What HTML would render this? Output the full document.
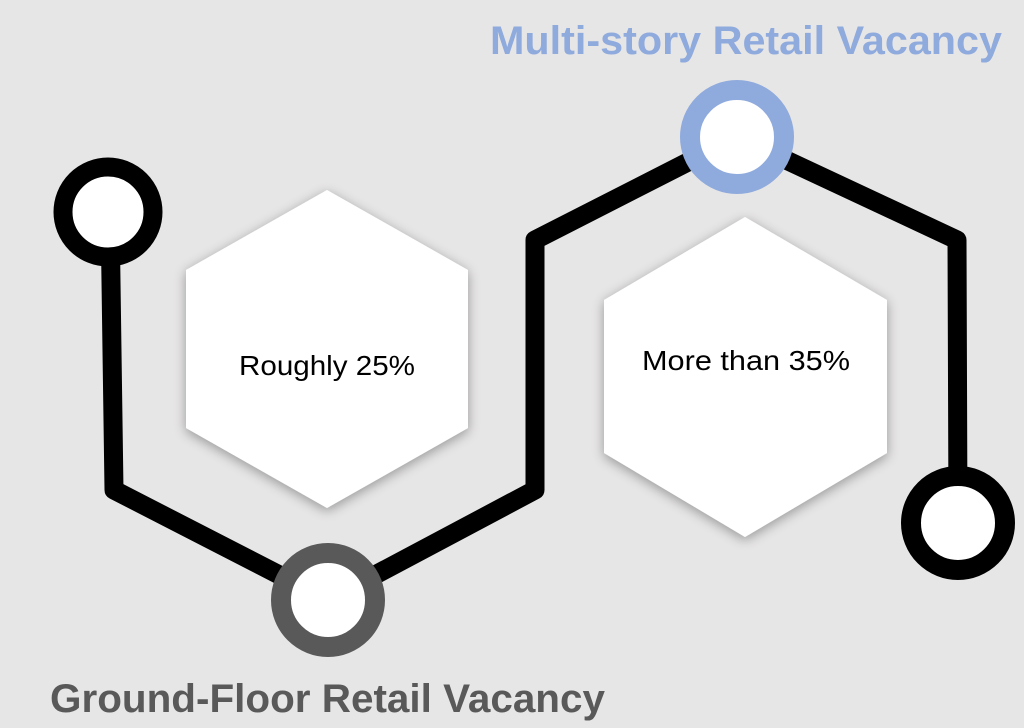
<!DOCTYPE html>
<html><head><meta charset="utf-8"><style>
html,body{margin:0;padding:0;background:#e7e6e6;}
svg{display:block}
</style></head><body>
<svg width="1024" height="728" viewBox="0 0 1024 728" xmlns="http://www.w3.org/2000/svg">
<defs>
<filter id="sh" x="-20%" y="-20%" width="140%" height="140%">
<feGaussianBlur in="SourceAlpha" stdDeviation="6"/>
<feOffset dx="0" dy="3"/>
<feComponentTransfer><feFuncA type="linear" slope="0.35"/></feComponentTransfer>
<feMerge><feMergeNode/><feMergeNode in="SourceGraphic"/></feMerge>
</filter>
</defs>
<rect width="1024" height="728" fill="#e7e6e6"/>
<polygon points="327,190 468,270 468,428 327,508 186,428 186,270" fill="#fff" filter="url(#sh)"/>
<polygon points="745,217 887,300 887,453 745,537 604,453 604,300" fill="#fff" filter="url(#sh)"/>
<polyline points="110,212 114,490 328,600 535,490 535,240 737,137 957,240 958,522" fill="none" stroke="#000" stroke-width="19" stroke-linejoin="round"/>
<circle cx="108" cy="212" r="45" fill="#fff" stroke="#000" stroke-width="19"/>
<circle cx="328" cy="600" r="47" fill="#fff" stroke="#595959" stroke-width="20"/>
<circle cx="737" cy="137" r="47" fill="#fff" stroke="#8faadc" stroke-width="20"/>
<circle cx="958" cy="523" r="47" fill="#fff" stroke="#000" stroke-width="20"/>
<text x="327" y="375" font-family="Liberation Sans, sans-serif" font-size="28" text-anchor="middle" fill="#000" textLength="176" lengthAdjust="spacingAndGlyphs">Roughly 25%</text>
<text x="746" y="370" font-family="Liberation Sans, sans-serif" font-size="28" text-anchor="middle" fill="#000" textLength="208" lengthAdjust="spacingAndGlyphs">More than 35%</text>
<text x="490" y="54" font-family="Liberation Sans, sans-serif" font-weight="bold" font-size="40" fill="#8faadc" textLength="512" lengthAdjust="spacingAndGlyphs">Multi-story Retail Vacancy</text>
<text x="50" y="712" font-family="Liberation Sans, sans-serif" font-weight="bold" font-size="40" fill="#595959" textLength="555" lengthAdjust="spacingAndGlyphs">Ground-Floor Retail Vacancy</text>
</svg>
</body></html>
